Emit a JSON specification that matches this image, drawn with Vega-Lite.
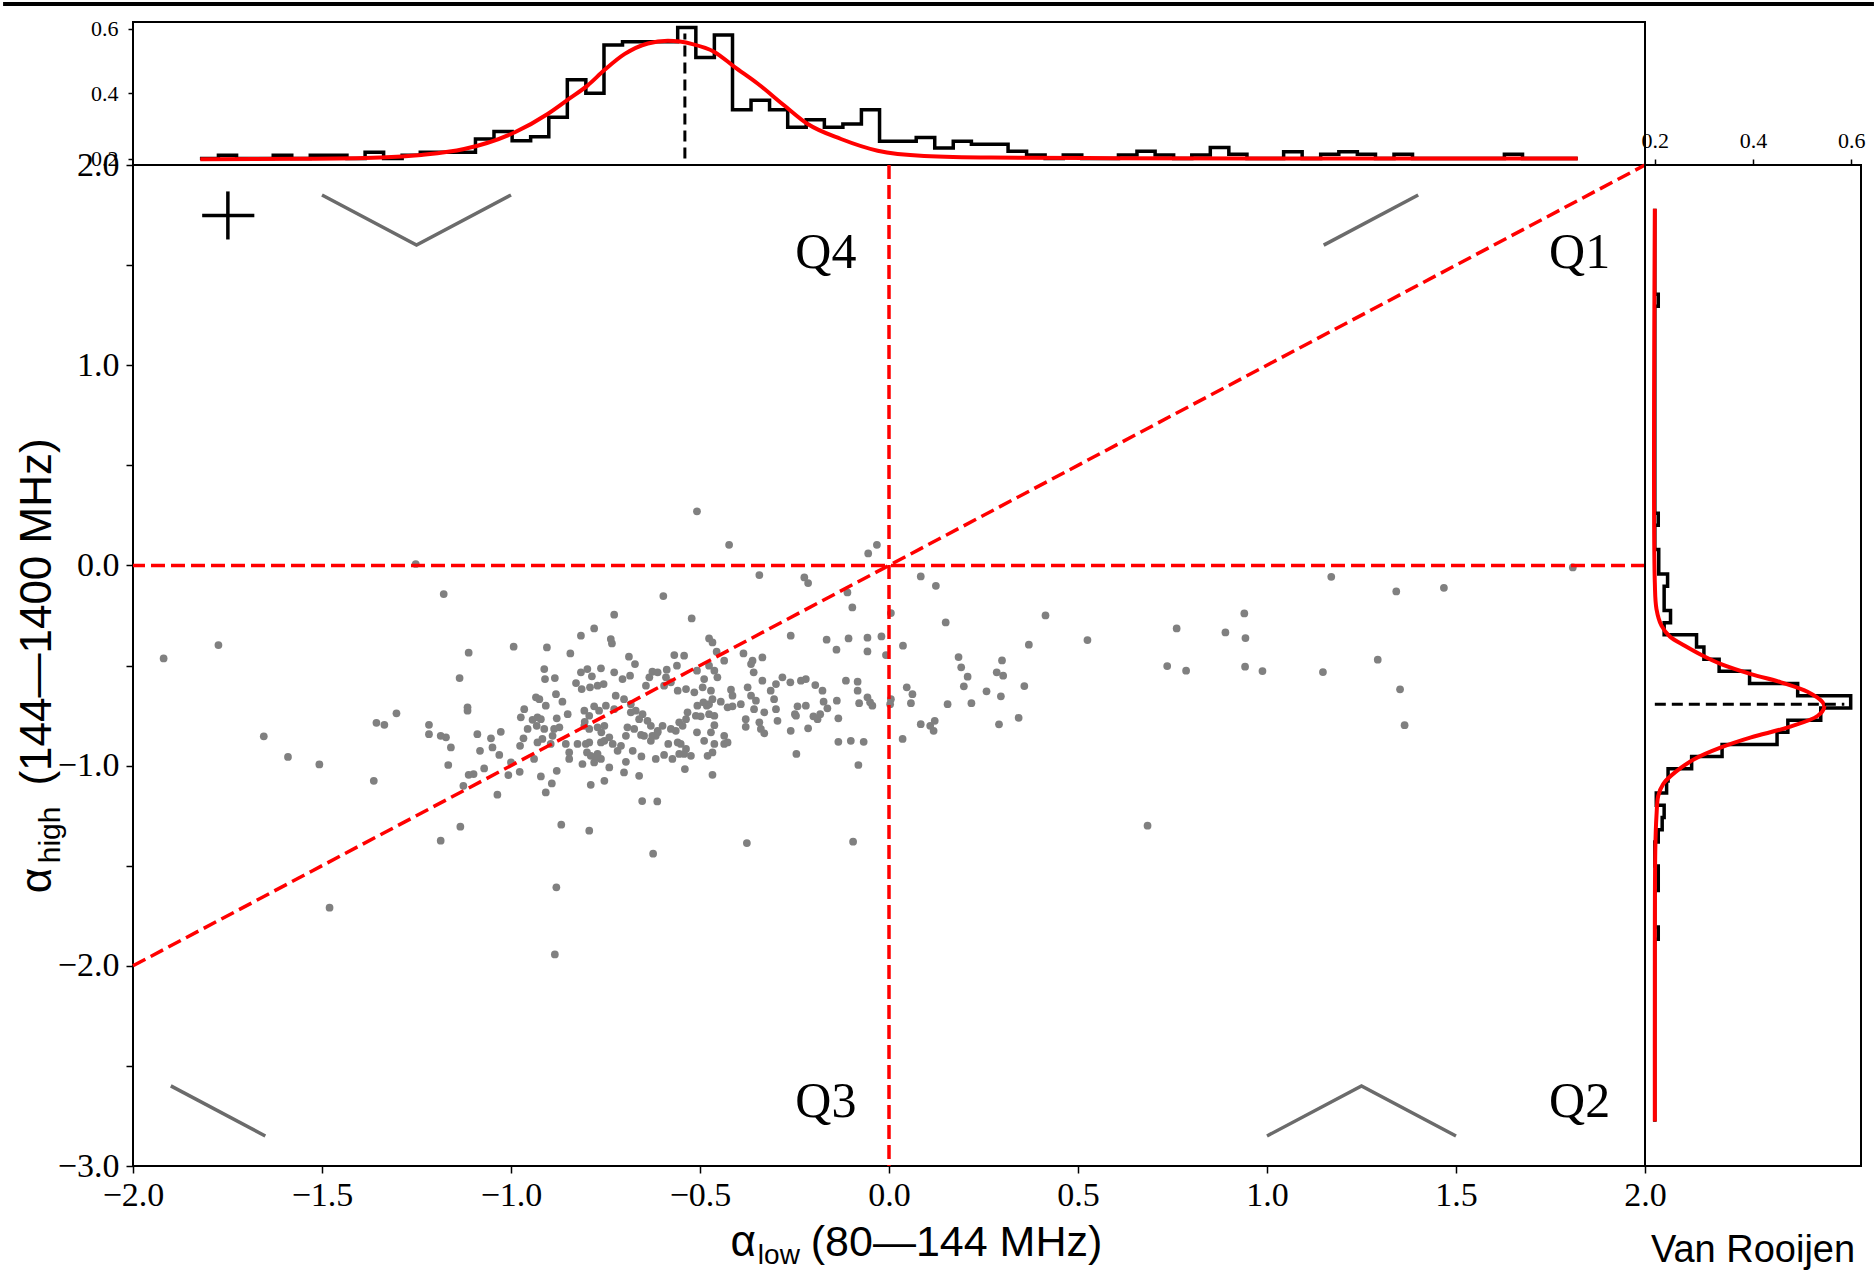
{
"$schema": "https://vega.github.io/schema/vega-lite/v6.json",
"background": "white",
"padding": 0,
"config": {
  "view": {"stroke": "black", "strokeWidth": 2},
  "axis": {"grid": false, "domain": false, "tickColor": "black", "tickWidth": 1.5, "labelColor": "black", "labelFont": "Liberation Serif", "labelFlush": false, "labelOverlap": false, "labelBound": false}
},
"datasets": {
  "pts": [
{"x":-1.919,"y":-0.465},{"x":-1.774,"y":-0.398},{"x":-1.654,"y":-0.854},{"x":-1.59,"y":-0.957},{"x":-1.507,"y":-0.994},{"x":-1.363,"y":-1.076},{"x":-1.356,"y":-0.786},{"x":-1.335,"y":-0.796},{"x":-1.303,"y":-0.739},{"x":-1.252,"y":0.007},{"x":-1.217,"y":-0.796},{"x":-1.217,"y":-0.843},{"x":-1.48,"y":-1.71},{"x":-0.884,"y":-1.943},{"x":-0.88,"y":-1.608},{"x":-0.508,"y":0.27},{"x":-0.423,"y":0.103},
{"x":0.414,"y":-0.25},{"x":0.525,"y":-0.373},{"x":0.37,"y":-0.396},{"x":0.184,"y":-0.458},{"x":0.191,"y":-0.509},{"x":0.208,"y":-0.556},{"x":0.198,"y":-0.604},{"x":0.299,"y":-0.475},{"x":0.285,"y":-0.534},{"x":0.302,"y":-0.551},{"x":0.258,"y":-0.629},{"x":0.296,"y":-0.654},{"x":0.358,"y":-0.603},{"x":0.218,"y":-0.688},{"x":0.343,"y":-0.761},{"x":0.291,"y":-0.794},{"x":0.736,"y":-0.503},{"x":0.761,"y":-0.315},{"x":0.786,"y":-0.526},{"x":0.89,"y":-0.335},{"x":0.94,"y":-0.24},{"x":0.943,"y":-0.363},{"x":0.942,"y":-0.506},{"x":0.988,"y":-0.528},{"x":1.148,"y":-0.533},{"x":1.17,"y":-0.057},{"x":1.293,"y":-0.471},{"x":1.342,"y":-0.13},{"x":1.352,"y":-0.619},{"x":1.364,"y":-0.798},{"x":1.468,"y":-0.112},{"x":1.809,"y":-0.01},{"x":0.684,"y":-1.3},{"x":-0.032,"y":0.103},{"x":-0.055,"y":0.06},
{"x":-1.178,"y":-0.143},{"x":-0.597,"y":-0.153},{"x":-0.343,"y":-0.048},{"x":-0.224,"y":-0.06},{"x":-0.214,"y":-0.088},{"x":-0.11,"y":-0.135},{"x":-0.097,"y":-0.21},{"x":0.005,"y":-0.238},{"x":0.084,"y":-0.055},{"x":0.124,"y":-0.102},{"x":0.15,"y":-0.285},{"x":-0.727,"y":-0.246},{"x":-0.522,"y":-0.265},{"x":-0.78,"y":-0.315},{"x":-0.815,"y":-0.351},{"x":-0.736,"y":-0.368},{"x":-0.733,"y":-0.39},{"x":-0.993,"y":-0.406},{"x":-0.905,"y":-0.41},{"x":-1.112,"y":-0.436},{"x":-0.843,"y":-0.44},{"x":-0.26,"y":-0.351},{"x":-0.165,"y":-0.371},{"x":-0.139,"y":-0.421},{"x":-0.107,"y":-0.365},{"x":-0.057,"y":-0.361},{"x":-0.02,"y":-0.355},{"x":-0.057,"y":-0.43},{"x":-0.008,"y":-0.448},{"x":-0.476,"y":-0.365},{"x":-0.467,"y":-0.385},{"x":-0.385,"y":-0.44},{"x":-0.361,"y":-0.476},{"x":-0.335,"y":-0.46},{"x":-0.365,"y":-0.493},{"x":-0.436,"y":-0.476},{"x":-0.456,"y":-0.431},{"x":-1.136,"y":-0.563},{"x":-0.912,"y":-0.518},{"x":-0.91,"y":-0.568},{"x":-0.884,"y":-0.563},{"x":-0.688,"y":-0.456},{"x":-0.672,"y":-0.493},{"x":-0.568,"y":-0.448},{"x":-0.542,"y":-0.451},{"x":-0.561,"y":-0.501},{"x":-0.588,"y":-0.521},{"x":-0.626,"y":-0.531},{"x":-0.612,"y":-0.534},{"x":-0.798,"y":-0.518},{"x":-0.815,"y":-0.534},{"x":-0.762,"y":-0.514},{"x":-0.786,"y":-0.554},{"x":-0.727,"y":-0.534},{"x":-0.705,"y":-0.568},{"x":-0.685,"y":-0.551},{"x":-0.828,"y":-0.588},{"x":-0.813,"y":-0.618},{"x":-0.791,"y":-0.609},{"x":-0.771,"y":-0.601},{"x":-0.755,"y":-0.593},{"x":-0.634,"y":-0.559},{"x":-0.643,"y":-0.601},{"x":-0.59,"y":-0.559},{"x":-0.595,"y":-0.601},{"x":-0.577,"y":-0.584},{"x":-0.559,"y":-0.626},{"x":-0.537,"y":-0.618},{"x":-0.515,"y":-0.634},{"x":-0.493,"y":-0.609},{"x":-0.471,"y":-0.626},{"x":-0.476,"y":-0.501},{"x":-0.462,"y":-0.526},{"x":-0.454,"y":-0.559},{"x":-0.489,"y":-0.568},{"x":-0.508,"y":-0.526},{"x":-0.358,"y":-0.534},{"x":-0.335,"y":-0.576},{"x":-0.282,"y":-0.559},{"x":-0.261,"y":-0.584},{"x":-0.233,"y":-0.576},{"x":-0.22,"y":-0.568},{"x":-0.195,"y":-0.598},{"x":-0.176,"y":-0.626},{"x":-0.114,"y":-0.576},{"x":-0.083,"y":-0.581},{"x":-0.083,"y":-0.626},{"x":0.037,"y":-0.401},{"x":0.047,"y":-0.609},{"x":0.062,"y":-0.643},{"x":0.005,"y":-0.668},{"x":0.003,"y":-0.693},{"x":0.058,"y":-0.688},{"x":0.155,"y":-0.693},{"x":-0.057,"y":-0.659},{"x":-0.079,"y":-0.688},{"x":-0.05,"y":-0.684},{"x":-0.044,"y":-0.701},{"x":-0.138,"y":-0.676},{"x":-0.173,"y":-0.681},{"x":-0.163,"y":-0.714},{"x":-0.182,"y":-0.743},{"x":-0.2,"y":-0.754},{"x":-0.189,"y":-0.768},{"x":-0.22,"y":-0.701},{"x":-0.242,"y":-0.704},{"x":-0.249,"y":-0.743},{"x":-0.26,"y":-0.826},{"x":-0.214,"y":-0.814},{"x":-0.134,"y":-0.764},{"x":-0.134,"y":-0.881},{"x":-0.101,"y":-0.876},{"x":-0.067,"y":-0.881},{"x":-0.081,"y":-0.997},{"x":0.036,"y":-0.867},{"x":0.084,"y":-0.793},{"x":0.109,"y":-0.801},{"x":0.121,"y":-0.776},{"x":0.118,"y":-0.826},{"x":-0.245,"y":-0.942},{"x":-0.295,"y":-0.776},{"x":-0.299,"y":-0.718},{"x":-0.304,"y":-0.668},{"x":-0.313,"y":-0.626},{"x":-0.299,"y":-0.593},{"x":-0.33,"y":-0.734},{"x":-0.343,"y":-0.784},{"x":-0.33,"y":-0.839},{"x":-0.339,"y":-0.817},{"x":-0.357,"y":-0.718},{"x":-0.379,"y":-0.768},{"x":-0.379,"y":-0.806},{"x":-0.392,"y":-0.693},{"x":-0.374,"y":-0.609},{"x":-0.365,"y":-0.651},{"x":-0.352,"y":-0.676},{"x":-0.418,"y":-0.621},{"x":-0.414,"y":-0.651},{"x":-0.427,"y":-0.709},{"x":-0.414,"y":-0.704},{"x":-0.445,"y":-0.681},{"x":-0.467,"y":-0.668},{"x":-0.462,"y":-0.751},{"x":-0.476,"y":-0.743},{"x":-0.482,"y":-0.701},{"x":-0.498,"y":-0.754},{"x":-0.507,"y":-0.701},{"x":-0.491,"y":-0.684},{"x":-0.476,"y":-0.693},{"x":-0.511,"y":-0.751},{"x":-0.533,"y":-0.734},{"x":-0.537,"y":-0.768},{"x":-0.555,"y":-0.784},{"x":-0.546,"y":-0.801},{"x":-0.564,"y":-0.826},{"x":-0.577,"y":-0.817},{"x":-0.599,"y":-0.801},{"x":-0.612,"y":-0.826},{"x":-0.63,"y":-0.801},{"x":-0.639,"y":-0.776},{"x":-0.652,"y":-0.743},{"x":-0.661,"y":-0.768},{"x":-0.67,"y":-0.726},{"x":-0.683,"y":-0.734},{"x":-0.683,"y":-0.693},{"x":-0.701,"y":-0.668},{"x":-0.723,"y":-0.651},{"x":-0.727,"y":-0.718},{"x":-0.749,"y":-0.701},{"x":-0.767,"y":-0.726},{"x":-0.78,"y":-0.704},{"x":-0.793,"y":-0.751},{"x":-0.806,"y":-0.726},{"x":-0.805,"y":-0.781},{"x":-0.806,"y":-0.801},{"x":-0.793,"y":-0.817},{"x":-0.771,"y":-0.809},{"x":-0.753,"y":-0.801},{"x":-0.761,"y":-0.834},{"x":-0.74,"y":-0.859},{"x":-0.731,"y":-0.892},{"x":-0.709,"y":-0.901},{"x":-0.718,"y":-0.926},{"x":-0.692,"y":-0.809},{"x":-0.674,"y":-0.817},{"x":-0.696,"y":-0.851},{"x":-0.678,"y":-0.926},{"x":-0.656,"y":-0.847},{"x":-0.648,"y":-0.851},{"x":-0.626,"y":-0.851},{"x":-0.617,"y":-0.851},{"x":-0.63,"y":-0.876},{"x":-0.612,"y":-0.834},{"x":-0.584,"y":-0.892},{"x":-0.559,"y":-0.884},{"x":-0.551,"y":-0.892},{"x":-0.537,"y":-0.917},{"x":-0.542,"y":-0.942},{"x":-0.524,"y":-0.951},{"x":-0.555,"y":-0.942},{"x":-0.595,"y":-0.947},{"x":-0.617,"y":-0.967},{"x":-0.573,"y":-0.967},{"x":-0.655,"y":-0.954},{"x":-0.696,"y":-0.981},{"x":-0.701,"y":-1.034},{"x":-0.661,"y":-1.051},{"x":-0.54,"y":-1.017},{"x":-0.467,"y":-1.046},{"x":-0.48,"y":-0.951},{"x":-0.467,"y":-0.934},{"x":-0.462,"y":-0.892},{"x":-0.436,"y":-0.851},{"x":-0.436,"y":-0.892},{"x":-0.427,"y":-0.884},{"x":-0.471,"y":-0.834},{"x":-0.462,"y":-0.798},{"x":-0.489,"y":-0.876},{"x":-0.508,"y":-0.834},{"x":-0.246,"y":-0.751},{"x":-0.85,"y":-0.743},{"x":-0.879,"y":-0.764},{"x":-0.872,"y":-0.809},{"x":-0.886,"y":-0.817},{"x":-0.89,"y":-0.851},{"x":-0.912,"y":-0.817},{"x":-0.921,"y":-0.768},{"x":-0.93,"y":-0.759},{"x":-0.943,"y":-0.771},{"x":-0.932,"y":-0.801},{"x":-0.956,"y":-0.817},{"x":-0.965,"y":-0.718},{"x":-0.974,"y":-0.759},{"x":-0.967,"y":-0.864},{"x":-0.976,"y":-0.901},{"x":-0.93,"y":-0.884},{"x":-0.917,"y":-0.867},{"x":-0.895,"y":-0.892},{"x":-0.855,"y":-0.892},{"x":-0.846,"y":-0.934},{"x":-0.846,"y":-0.967},{"x":-0.824,"y":-0.892},{"x":-0.802,"y":-0.892},{"x":-0.793,"y":-0.884},{"x":-0.762,"y":-0.884},{"x":-0.753,"y":-0.876},{"x":-0.799,"y":-0.934},{"x":-0.789,"y":-0.951},{"x":-0.775,"y":-0.959},{"x":-0.771,"y":-0.942},{"x":-0.762,"y":-0.967},{"x":-0.78,"y":-0.984},{"x":-0.811,"y":-0.992},{"x":-0.74,"y":-1.009},{"x":-0.939,"y":-0.967},{"x":-0.881,"y":-0.643},{"x":-0.864,"y":-0.681},{"x":-0.908,"y":-0.701},{"x":-0.925,"y":-0.668},{"x":-0.934,"y":-0.659},{"x":-1.115,"y":-0.709},{"x":-1.115,"y":-0.726},{"x":-1.186,"y":-0.851},{"x":-1.172,"y":-0.859},{"x":-1.159,"y":-0.909},{"x":-1.089,"y":-0.843},{"x":-1.053,"y":-0.864},{"x":-1.027,"y":-0.831},{"x":-1.049,"y":-0.909},{"x":-1.082,"y":-0.926},{"x":-1.031,"y":-0.947},{"x":-1.0,"y":-0.984},{"x":-1.166,"y":-0.997},{"x":-1.071,"y":-1.014},{"x":-1.099,"y":-1.042},{"x":-1.112,"y":-1.046},{"x":-1.007,"y":-1.047},{"x":-0.977,"y":-1.031},{"x":-0.921,"y":-1.054},{"x":-0.879,"y":-1.026},{"x":-0.892,"y":-1.089},{"x":-0.908,"y":-1.134},{"x":-0.753,"y":-1.076},{"x":-0.789,"y":-1.096},{"x":-1.126,"y":-1.101},{"x":-1.036,"y":-1.145},{"x":-0.653,"y":-1.177},{"x":-0.613,"y":-1.179},{"x":-1.134,"y":-1.305},{"x":-1.186,"y":-1.375},{"x":-0.867,"y":-1.295},{"x":-0.793,"y":-1.325},{"x":-0.624,"y":-1.44},{"x":-0.376,"y":-1.387},{"x":-0.095,"y":-1.38}
  ],
  "topHist": [
{"x":-1.823,"v":0.2},{"x":-1.774,"v":0.21},{"x":-1.726,"v":0.2},{"x":-1.677,"v":0.2},{"x":-1.629,"v":0.21},{"x":-1.58,"v":0.2},{"x":-1.531,"v":0.21},{"x":-1.483,"v":0.21},{"x":-1.434,"v":0.2},{"x":-1.386,"v":0.219},{"x":-1.337,"v":0.2},{"x":-1.288,"v":0.21},{"x":-1.24,"v":0.219},{"x":-1.191,"v":0.219},{"x":-1.143,"v":0.219},{"x":-1.094,"v":0.26},{"x":-1.045,"v":0.283},{"x":-0.997,"v":0.255},{"x":-0.948,"v":0.267},{"x":-0.9,"v":0.327},{"x":-0.851,"v":0.442},{"x":-0.802,"v":0.401},{"x":-0.754,"v":0.549},{"x":-0.705,"v":0.559},{"x":-0.657,"v":0.559},{"x":-0.608,"v":0.559},{"x":-0.559,"v":0.603},{"x":-0.511,"v":0.511},{"x":-0.462,"v":0.58},{"x":-0.414,"v":0.35},{"x":-0.365,"v":0.379},{"x":-0.316,"v":0.35},{"x":-0.268,"v":0.296},{"x":-0.219,"v":0.319},{"x":-0.171,"v":0.296},{"x":-0.122,"v":0.306},{"x":-0.073,"v":0.35},{"x":-0.025,"v":0.253},{"x":0.024,"v":0.253},{"x":0.072,"v":0.265},{"x":0.121,"v":0.232},{"x":0.17,"v":0.253},{"x":0.218,"v":0.244},{"x":0.267,"v":0.244},{"x":0.315,"v":0.222},{"x":0.364,"v":0.211},{"x":0.413,"v":0.2},{"x":0.461,"v":0.211},{"x":0.51,"v":0.2},{"x":0.558,"v":0.2},{"x":0.607,"v":0.211},{"x":0.656,"v":0.222},{"x":0.704,"v":0.211},{"x":0.753,"v":0.2},{"x":0.801,"v":0.211},{"x":0.85,"v":0.234},{"x":0.899,"v":0.213},{"x":0.947,"v":0.2},{"x":0.996,"v":0.2},{"x":1.044,"v":0.221},{"x":1.093,"v":0.2},{"x":1.142,"v":0.213},{"x":1.19,"v":0.221},{"x":1.239,"v":0.213},{"x":1.287,"v":0.2},{"x":1.336,"v":0.213},{"x":1.385,"v":0.2},{"x":1.433,"v":0.2},{"x":1.482,"v":0.2},{"x":1.53,"v":0.2},{"x":1.579,"v":0.2},{"x":1.628,"v":0.213},{"x":1.676,"v":0.2},{"x":1.725,"v":0.2},{"x":1.773,"v":0.2},{"x":1.822,"v":0.2}
  ],
  "topCurve": [
{"x":-1.822,"v":0.198},{"x":-1.55,"v":0.199},{"x":-1.344,"v":0.203},{"x":-1.237,"v":0.211},{"x":-1.124,"v":0.229},{"x":-0.991,"v":0.28},{"x":-0.903,"v":0.337},{"x":-0.846,"v":0.384},{"x":-0.797,"v":0.425},{"x":-0.753,"v":0.472},{"x":-0.7,"v":0.521},{"x":-0.638,"v":0.554},{"x":-0.585,"v":0.562},{"x":-0.52,"v":0.552},{"x":-0.462,"v":0.528},{"x":-0.409,"v":0.482},{"x":-0.347,"v":0.43},{"x":-0.277,"v":0.363},{"x":-0.215,"v":0.306},{"x":-0.127,"v":0.26},{"x":-0.03,"v":0.224},{"x":0.093,"v":0.208},{"x":0.27,"v":0.203},{"x":0.6,"v":0.201},{"x":1.0,"v":0.2},{"x":1.822,"v":0.2}
  ],
  "rightHist": [
{"y":-2.779,"v":0.2},{"y":-2.718,"v":0.2},{"y":-2.657,"v":0.2},{"y":-2.597,"v":0.2},{"y":-2.536,"v":0.2},{"y":-2.475,"v":0.2},{"y":-2.414,"v":0.2},{"y":-2.353,"v":0.2},{"y":-2.293,"v":0.2},{"y":-2.232,"v":0.2},{"y":-2.171,"v":0.2},{"y":-2.11,"v":0.2},{"y":-2.049,"v":0.2},{"y":-1.989,"v":0.2},{"y":-1.928,"v":0.2},{"y":-1.867,"v":0.207},{"y":-1.806,"v":0.2},{"y":-1.745,"v":0.2},{"y":-1.685,"v":0.2},{"y":-1.624,"v":0.207},{"y":-1.563,"v":0.207},{"y":-1.502,"v":0.2},{"y":-1.441,"v":0.2},{"y":-1.381,"v":0.207},{"y":-1.32,"v":0.215},{"y":-1.259,"v":0.219},{"y":-1.198,"v":0.203},{"y":-1.137,"v":0.224},{"y":-1.077,"v":0.227},{"y":-1.016,"v":0.275},{"y":-0.955,"v":0.337},{"y":-0.894,"v":0.449},{"y":-0.833,"v":0.471},{"y":-0.773,"v":0.538},{"y":-0.712,"v":0.599},{"y":-0.651,"v":0.491},{"y":-0.59,"v":0.393},{"y":-0.529,"v":0.331},{"y":-0.469,"v":0.3},{"y":-0.408,"v":0.285},{"y":-0.347,"v":0.219},{"y":-0.286,"v":0.232},{"y":-0.225,"v":0.219},{"y":-0.165,"v":0.219},{"y":-0.104,"v":0.226},{"y":-0.043,"v":0.208},{"y":0.018,"v":0.208},{"y":0.079,"v":0.2},{"y":0.139,"v":0.2},{"y":0.2,"v":0.207},{"y":0.261,"v":0.2},{"y":0.322,"v":0.2},{"y":0.383,"v":0.2},{"y":0.443,"v":0.2},{"y":0.504,"v":0.2},{"y":0.565,"v":0.2},{"y":0.626,"v":0.2},{"y":0.687,"v":0.2},{"y":0.747,"v":0.2},{"y":0.808,"v":0.2},{"y":0.869,"v":0.2},{"y":0.93,"v":0.2},{"y":0.991,"v":0.2},{"y":1.051,"v":0.2},{"y":1.112,"v":0.2},{"y":1.173,"v":0.2},{"y":1.234,"v":0.2},{"y":1.295,"v":0.207},{"y":1.355,"v":0.2},{"y":1.416,"v":0.2},{"y":1.477,"v":0.2},{"y":1.538,"v":0.2},{"y":1.599,"v":0.2},{"y":1.659,"v":0.2},{"y":1.72,"v":0.2},{"y":1.781,"v":0.2}
  ],
  "rightCurve": [
{"y":-2.778,"v":0.2},{"y":-2.18,"v":0.2},{"y":-1.417,"v":0.201},{"y":-1.25,"v":0.2034},{"y":-1.151,"v":0.207},{"y":-1.092,"v":0.217},{"y":-1.034,"v":0.241},{"y":-0.967,"v":0.281},{"y":-0.909,"v":0.335},{"y":-0.859,"v":0.396},{"y":-0.809,"v":0.471},{"y":-0.751,"v":0.532},{"y":-0.709,"v":0.545},{"y":-0.684,"v":0.542},{"y":-0.631,"v":0.511},{"y":-0.584,"v":0.457},{"y":-0.543,"v":0.396},{"y":-0.493,"v":0.335},{"y":-0.451,"v":0.298},{"y":-0.401,"v":0.261},{"y":-0.355,"v":0.2305},{"y":-0.301,"v":0.2136},{"y":-0.218,"v":0.2034},{"y":-0.085,"v":0.2},{"y":1.781,"v":0.2}
  ],
  "icons": [
{"icon":"Q4","x":-1.5,"y":1.85},{"icon":"Q4","x":-1.25,"y":1.6},{"icon":"Q4","x":-1.0,"y":1.85},
{"icon":"Q1","x":1.15,"y":1.6},{"icon":"Q1","x":1.4,"y":1.85},
{"icon":"Q3","x":-1.9,"y":-2.6},{"icon":"Q3","x":-1.65,"y":-2.85},
{"icon":"Q2","x":1.0,"y":-2.85},{"icon":"Q2","x":1.25,"y":-2.6},{"icon":"Q2","x":1.5,"y":-2.85}
  ],
  "quads": [
{"label":"Q4","x":-0.167,"y":1.486},{"label":"Q1","x":1.827,"y":1.486},{"label":"Q3","x":-0.167,"y":-2.755},{"label":"Q2","x":1.827,"y":-2.755}
  ]
},
"columns": 2,
"spacing": 0,
"bounds": "flush",
"align": "each",
"concat": [
  {
    "width": 1512, "height": 143,
    "layer": [
      {"data": {"name": "topHist"}, "mark": {"type": "line", "interpolate": "step-after", "color": "black", "strokeWidth": 3.5},
       "encoding": {
         "x": {"field": "x", "type": "quantitative", "scale": {"domain": [-2, 2], "nice": false, "zero": false}, "axis": null},
         "y": {"field": "v", "type": "quantitative", "scale": {"domain": [0.18, 0.62], "nice": false, "zero": false},
               "axis": {"values": [0.2, 0.4, 0.6], "format": ".1f", "labelFontSize": 22, "tickSize": 5, "labelPadding": 10, "title": null}}}},
      {"data": {"name": "topCurve"}, "mark": {"type": "line", "interpolate": "monotone", "color": "red", "strokeWidth": 4},
       "encoding": {"x": {"field": "x", "type": "quantitative"}, "y": {"field": "v", "type": "quantitative"}}},
      {"data": {"values": [{}]}, "mark": {"type": "rule", "color": "black", "strokeWidth": 3, "strokeDash": [11, 6]},
       "encoding": {"x": {"datum": -0.54}, "y": {"datum": 0.2}, "y2": {"datum": 0.585}}},
      {"data": {"values": [{}]}, "mark": {"type": "rule", "color": "black", "strokeWidth": 4, "strokeCap": "butt"},
       "encoding": {"x": {"datum": -2.3437}, "x2": {"datum": 2.6057}, "y": {"datum": 0.6754}}}
    ]
  },
  {
    "width": 216, "height": 143,
    "view": {"stroke": null},
    "data": {"values": []},
    "mark": "point",
    "encoding": {}
  },
  {
    "width": 1512, "height": 1001,
    "layer": [
      {"data": {"name": "pts"}, "mark": {"type": "circle", "size": 60, "color": "#808080", "opacity": 1},
       "encoding": {
         "x": {"field": "x", "type": "quantitative", "scale": {"domain": [-2, 2], "nice": false, "zero": false},
               "axis": {"values": [-2, -1.5, -1, -0.5, 0, 0.5, 1, 1.5, 2], "format": ".1f", "labelFontSize": 34, "tickSize": 7, "labelPadding": 5, "title": null}},
         "y": {"field": "y", "type": "quantitative", "scale": {"domain": [-3, 2], "nice": false, "zero": false},
               "axis": {"values": [-3, -2.5, -2, -1.5, -1, -0.5, 0, 0.5, 1, 1.5, 2], "labelExpr": "datum.value % 1 === 0 ? format(datum.value, '.1f') : ''", "labelFontSize": 34, "tickSize": 7, "labelPadding": 7, "title": null}}}},
      {"data": {"values": [{}]}, "mark": {"type": "rule", "color": "red", "strokeWidth": 3.5, "strokeDash": [14, 6]},
       "encoding": {"y": {"datum": 0}}},
      {"data": {"values": [{}]}, "mark": {"type": "rule", "color": "red", "strokeWidth": 3.5, "strokeDash": [14, 6]},
       "encoding": {"x": {"datum": 0}}},
      {"data": {"values": [{}]}, "mark": {"type": "rule", "color": "red", "strokeWidth": 3.5, "strokeDash": [14, 6]},
       "encoding": {"x": {"datum": -2}, "y": {"datum": -2}, "x2": {"datum": 2}, "y2": {"datum": 2}}},
      {"data": {"values": [{}]}, "mark": {"type": "rule", "color": "black", "strokeWidth": 3.5},
       "encoding": {"x": {"datum": -1.817}, "x2": {"datum": -1.679}, "y": {"datum": 1.748}}},
      {"data": {"values": [{}]}, "mark": {"type": "rule", "color": "black", "strokeWidth": 3.5},
       "encoding": {"x": {"datum": -1.749}, "y": {"datum": 1.628}, "y2": {"datum": 1.868}}},
      {"data": {"name": "icons"}, "mark": {"type": "line", "color": "#6b6b6b", "strokeWidth": 3.5},
       "encoding": {"x": {"field": "x", "type": "quantitative"}, "y": {"field": "y", "type": "quantitative"}, "detail": {"field": "icon"}}},
      {"data": {"name": "quads"}, "mark": {"type": "text", "font": "Liberation Serif", "fontSize": 50, "align": "center", "baseline": "alphabetic", "color": "black"},
       "encoding": {"x": {"field": "x", "type": "quantitative"}, "y": {"field": "y", "type": "quantitative"}, "text": {"field": "label"}}},
      {"data": {"values": [{}]}, "mark": {"type": "text", "text": "α", "font": "Liberation Sans", "fontSize": 44, "align": "left", "baseline": "alphabetic", "color": "black"},
       "encoding": {"x": {"datum": -0.419}, "y": {"datum": -3.451}}},
      {"data": {"values": [{}]}, "mark": {"type": "text", "text": "low", "font": "Liberation Sans", "fontSize": 28, "align": "left", "baseline": "alphabetic", "color": "black"},
       "encoding": {"x": {"datum": -0.347}, "y": {"datum": -3.49}}},
      {"data": {"values": [{}]}, "mark": {"type": "text", "text": "(80—144 MHz)", "font": "Liberation Sans", "fontSize": 43, "align": "left", "baseline": "alphabetic", "color": "black"},
       "encoding": {"x": {"datum": -0.207}, "y": {"datum": -3.451}}},
      {"data": {"values": [{}]}, "mark": {"type": "text", "text": "α", "font": "Liberation Sans", "fontSize": 44, "align": "left", "baseline": "alphabetic", "angle": 270, "color": "black"},
       "encoding": {"x": {"datum": -2.217}, "y": {"datum": -1.638}}},
      {"data": {"values": [{}]}, "mark": {"type": "text", "text": "high", "font": "Liberation Sans", "fontSize": 30, "align": "left", "baseline": "alphabetic", "angle": 270, "color": "black"},
       "encoding": {"x": {"datum": -2.193}, "y": {"datum": -1.488}}},
      {"data": {"values": [{}]}, "mark": {"type": "text", "text": "(144—1400 MHz)", "font": "Liberation Sans", "fontSize": 44, "align": "left", "baseline": "alphabetic", "angle": 270, "color": "black"},
       "encoding": {"x": {"datum": -2.217}, "y": {"datum": -1.1}}}
    ]
  },
  {
    "width": 216, "height": 1001,
    "layer": [
      {"data": {"name": "rightHist"}, "mark": {"type": "line", "interpolate": "step-before", "color": "black", "strokeWidth": 3.5},
       "encoding": {
         "x": {"field": "v", "type": "quantitative", "scale": {"domain": [0.18, 0.62], "nice": false, "zero": false},
               "axis": {"orient": "top", "values": [0.2, 0.4, 0.6], "format": ".1f", "labelFontSize": 22, "tickSize": 6, "labelPadding": 7, "title": null}},
         "y": {"field": "y", "type": "quantitative", "scale": {"domain": [-3, 2], "nice": false, "zero": false}, "axis": null},
         "order": {"field": "y", "type": "quantitative"}}},
      {"data": {"name": "rightCurve"}, "mark": {"type": "line", "interpolate": "catmull-rom", "color": "red", "strokeWidth": 4},
       "encoding": {"x": {"field": "v", "type": "quantitative"}, "y": {"field": "y", "type": "quantitative"}, "order": {"field": "y", "type": "quantitative"}}},
      {"data": {"values": [{}]}, "mark": {"type": "rule", "color": "black", "strokeWidth": 3, "strokeDash": [11, 6]},
       "encoding": {"x": {"datum": 0.2}, "x2": {"datum": 0.586}, "y": {"datum": -0.693}}},
      {"data": {"values": [{}]}, "mark": {"type": "text", "text": "Van Rooijen", "font": "Liberation Sans", "fontSize": 38, "align": "center", "baseline": "alphabetic", "color": "black"},
       "encoding": {"x": {"datum": 0.4}, "y": {"datum": -3.48}}}
    ]
  }
]
}
